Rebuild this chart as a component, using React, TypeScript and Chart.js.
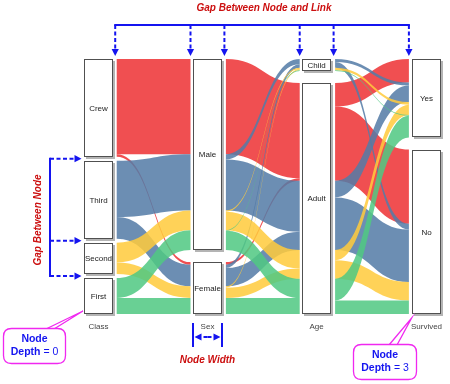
import React, { useEffect, useRef } from 'react';
import { Chart, registerables } from 'chart.js';

Chart.register(...registerables);

// ---------- data ----------
const classes = ['Crew', 'Third', 'Second', 'First'];
const sexes = ['Male', 'Female'];
const ages = ['Child', 'Adult'];
const outcomes = ['Yes', 'No'];
const columnTitles = ['Class', 'Sex', 'Age', 'Survived'];
// counts per class, order: Male(Child Yes, Child No, Adult Yes, Adult No), Female(Child Yes, Child No, Adult Yes, Adult No)
const crewCounts = [0, 0, 192, 670, 0, 0, 20, 3];
const thirdCounts = [13, 35, 75, 387, 14, 17, 76, 89];
const secondCounts = [11, 0, 14, 154, 13, 0, 80, 13];
const firstCounts = [5, 0, 57, 118, 1, 0, 140, 4];
const classColors = [
  'rgba(238,50,52,0.86)',
  'rgba(84,124,166,0.86)',
  'rgba(255,203,60,0.86)',
  'rgba(80,200,130,0.86)',
];

// ---------- layout constants ----------
const SPAN = 2310; // vertical extent in people units
const NODE_W = 0.2656; // node width in column units
const LINK_GAP = 3.2; // px gap between node and link

type PathT = { idx: number[]; n: number };
type LinkT = { c: number; src: number; dst: number; n: number; y0: number; y1: number };

function buildModel() {
  const columns = [classes, sexes, ages, outcomes];
  const countsByClass = [crewCounts, thirdCounts, secondCounts, firstCounts];
  const paths: PathT[] = [];
  countsByClass.forEach((arr, c) =>
    arr.forEach((n, j) => {
      const s = Math.floor(j / 4);
      const a = Math.floor(j / 2) % 2;
      const v = j % 2;
      if (n > 0) paths.push({ idx: [c, s, a, v], n });
    })
  );
  const nodes = columns.map((names, k) => {
    const totals = names.map((_, i) =>
      paths.filter((p) => p.idx[k] === i).reduce((s, p) => s + p.n, 0)
    );
    const sum = totals.reduce((s, t) => s + t, 0);
    const gap = names.length > 1 ? (SPAN - sum) / (names.length - 1) : 0;
    let y = 0;
    return totals.map((t, i) => {
      const r = { name: names[i], y0: y, y1: y + t };
      y += t + gap;
      return r;
    });
  });
  const linkCols: LinkT[][] = [];
  for (let k = 0; k < 3; k++) {
    const map = new Map<string, LinkT>();
    paths.forEach((p) => {
      const key = p.idx[0] + '-' + p.idx[k] + '-' + p.idx[k + 1];
      const l = map.get(key);
      if (l) l.n += p.n;
      else map.set(key, { c: p.idx[0], src: p.idx[k], dst: p.idx[k + 1], n: p.n, y0: 0, y1: 0 });
    });
    const links = [...map.values()];
    nodes[k].forEach((nd, i) => {
      let off = nd.y0;
      links
        .filter((l) => l.src === i)
        .sort((a, b) => a.c - b.c || a.dst - b.dst)
        .forEach((l) => {
          l.y0 = off;
          off += l.n;
        });
    });
    nodes[k + 1].forEach((nd, j) => {
      let off = nd.y0;
      links
        .filter((l) => l.dst === j)
        .sort((a, b) => a.c - b.c || a.src - b.src)
        .forEach((l) => {
          l.y1 = off;
          off += l.n;
        });
    });
    linkCols.push(links);
  }
  return { nodes, linkCols };
}

const FONT = '"Liberation Sans", Arial, sans-serif';
const BLUE = '#1414f0';
const RED = '#cc1010';
const MAGENTA = '#f028f0';

function arrow(ctx: CanvasRenderingContext2D, x1: number, y1: number, x2: number, y2: number, dashed = true) {
  const ang = Math.atan2(y2 - y1, x2 - x1);
  const hl = 7;
  const hw = 3.6;
  const bx = x2 - hl * Math.cos(ang);
  const by = y2 - hl * Math.sin(ang);
  ctx.save();
  ctx.strokeStyle = BLUE;
  ctx.fillStyle = BLUE;
  ctx.lineWidth = 2;
  ctx.setLineDash(dashed ? [4, 2.5] : []);
  ctx.beginPath();
  ctx.moveTo(x1, y1);
  ctx.lineTo(bx, by);
  ctx.stroke();
  ctx.setLineDash([]);
  ctx.beginPath();
  ctx.moveTo(x2, y2);
  ctx.lineTo(bx - hw * Math.sin(ang), by + hw * Math.cos(ang));
  ctx.lineTo(bx + hw * Math.sin(ang), by - hw * Math.cos(ang));
  ctx.closePath();
  ctx.fill();
  ctx.restore();
}

function roundRect(ctx: CanvasRenderingContext2D, x: number, y: number, w: number, h: number, r: number) {
  ctx.beginPath();
  ctx.moveTo(x + r, y);
  ctx.lineTo(x + w - r, y);
  ctx.quadraticCurveTo(x + w, y, x + w, y + r);
  ctx.lineTo(x + w, y + h - r);
  ctx.quadraticCurveTo(x + w, y + h, x + w - r, y + h);
  ctx.lineTo(x + r, y + h);
  ctx.quadraticCurveTo(x, y + h, x, y + h - r);
  ctx.lineTo(x, y + r);
  ctx.quadraticCurveTo(x, y, x + r, y);
  ctx.closePath();
}

function callout(ctx: CanvasRenderingContext2D, bx: number, by: number, w: number, h: number, tx1: number, tx2: number, px: number, py: number, depth: string) {
  ctx.save();
  ctx.strokeStyle = MAGENTA;
  ctx.lineWidth = 1.3;
  ctx.beginPath();
  ctx.moveTo(tx1, by + 0.5);
  ctx.lineTo(px, py);
  ctx.lineTo(tx2, by + 0.5);
  ctx.stroke();
  roundRect(ctx, bx, by, w, h, 8);
  ctx.fillStyle = '#fff';
  ctx.fill();
  ctx.stroke();
  ctx.fillStyle = BLUE;
  ctx.textAlign = 'center';
  ctx.textBaseline = 'middle';
  const cx = bx + w / 2;
  ctx.font = 'bold 10.5px ' + FONT;
  ctx.fillText('Node', cx, by + 11);
  const t1 = 'Depth';
  const t2 = ' = ' + depth;
  ctx.font = 'bold 10.5px ' + FONT;
  const w1 = ctx.measureText(t1).width;
  ctx.font = '10.5px ' + FONT;
  const w2 = ctx.measureText(t2).width;
  const sx = cx - (w1 + w2) / 2;
  ctx.textAlign = 'left';
  ctx.font = 'bold 10.5px ' + FONT;
  ctx.fillText(t1, sx, by + 24);
  ctx.font = '10.5px ' + FONT;
  ctx.fillText(t2, sx + w1, by + 24);
  ctx.restore();
}

const sankeyPlugin = {
  id: 'sankeyDraw',
  afterDraw(chart: any) {
    const ctx: CanvasRenderingContext2D = chart.ctx;
    const xs = chart.scales.x;
    const ys = chart.scales.y;
    const { nodes, linkCols } = buildModel();
    const nodeL = (k: number) => xs.getPixelForValue(k);
    const nodeR = (k: number) => xs.getPixelForValue(k + NODE_W);
    const py = (v: number) => ys.getPixelForValue(v);

    // links
    linkCols.forEach((links, k) => {
      const x0 = nodeR(k) + LINK_GAP + 0.5;
      const x1 = nodeL(k + 1) - LINK_GAP + 0.5;
      const xm = (x0 + x1) / 2;
      links.forEach((l) => {
        const a0 = py(l.y0);
        const a1 = py(l.y0 + l.n);
        const b0 = py(l.y1);
        const b1 = py(l.y1 + l.n);
        ctx.beginPath();
        ctx.moveTo(x0, a0);
        ctx.bezierCurveTo(xm, a0, xm, b0, x1, b0);
        ctx.lineTo(x1, b1);
        ctx.bezierCurveTo(xm, b1, xm, a1, x0, a1);
        ctx.closePath();
        ctx.fillStyle = classColors[l.c];
        ctx.fill();
      });
    });

    // nodes
    nodes.forEach((col, k) => {
      const l = Math.round(nodeL(k));
      const r = Math.round(nodeR(k));
      col.forEach((nd) => {
        const t = Math.round(py(nd.y0));
        const b = Math.round(py(nd.y1));
        ctx.fillStyle = '#b4b4b4';
        ctx.fillRect(l + 2, t + 2, r - l, b - t);
        ctx.fillStyle = '#fff';
        ctx.fillRect(l, t, r - l, b - t);
        ctx.strokeStyle = '#505050';
        ctx.lineWidth = 1;
        ctx.strokeRect(l + 0.5, t + 0.5, r - l - 1, b - t - 1);
        ctx.fillStyle = '#222';
        ctx.font = '8px ' + FONT;
        ctx.textAlign = 'center';
        ctx.textBaseline = 'middle';
        ctx.fillText(nd.name, (l + r) / 2, (t + b) / 2 + 0.5);
      });
      ctx.fillStyle = '#444';
      ctx.font = '8px ' + FONT;
      ctx.textAlign = 'center';
      ctx.textBaseline = 'middle';
      ctx.fillText(columnTitles[k], (l + r) / 2, chart.chartArea.bottom + 13);
    });

    // annotation: gap between node and link
    const top = chart.chartArea.top;
    const ax: number[] = [];
    for (let k = 0; k < 3; k++) {
      ax.push(nodeR(k) + LINK_GAP - 1);
      ax.push(nodeL(k + 1) - LINK_GAP + 0.5);
    }
    ctx.save();
    ctx.strokeStyle = BLUE;
    ctx.lineWidth = 2;
    ctx.beginPath();
    ctx.moveTo(ax[0] - 1, 25);
    ctx.lineTo(ax[ax.length - 1] + 1, 25);
    ctx.stroke();
    ctx.restore();
    ax.forEach((x) => arrow(ctx, x, 25, x, top - 3));
    ctx.save();
    ctx.fillStyle = RED;
    ctx.font = 'italic bold 10px ' + FONT;
    ctx.textAlign = 'center';
    ctx.textBaseline = 'middle';
    ctx.fillText('Gap Between Node and Link', 264, 8.5);
    ctx.restore();

    // annotation: gap between node (class column)
    const c0 = nodes[0];
    const gy = [0, 1, 2].map((i) => (py(c0[i].y1) + py(c0[i + 1].y0)) / 2);
    ctx.save();
    ctx.strokeStyle = BLUE;
    ctx.lineWidth = 2;
    ctx.beginPath();
    ctx.moveTo(50, gy[0] - 1);
    ctx.lineTo(50, gy[2] + 1);
    ctx.stroke();
    ctx.restore();
    gy.forEach((y) => arrow(ctx, 50, y, nodeL(0) - 2.5, y));
    ctx.save();
    ctx.translate(38, 220);
    ctx.rotate(-Math.PI / 2);
    ctx.fillStyle = RED;
    ctx.font = 'italic bold 10px ' + FONT;
    ctx.textAlign = 'center';
    ctx.textBaseline = 'middle';
    ctx.fillText('Gap Between Node', 0, 0);
    ctx.restore();

    // annotation: node width
    const sl = Math.round(nodeL(1));
    const sr = Math.round(nodeR(1));
    ctx.save();
    ctx.strokeStyle = BLUE;
    ctx.lineWidth = 2;
    ctx.beginPath();
    ctx.moveTo(sl, 323);
    ctx.lineTo(sl, 347);
    ctx.moveTo(sr, 323);
    ctx.lineTo(sr, 347);
    ctx.stroke();
    ctx.restore();
    const midx = (sl + sr) / 2;
    arrow(ctx, midx, 337, sl + 1.5, 337);
    arrow(ctx, midx, 337, sr - 1.5, 337);
    ctx.save();
    ctx.fillStyle = RED;
    ctx.font = 'italic bold 10px ' + FONT;
    ctx.textAlign = 'center';
    ctx.textBaseline = 'middle';
    ctx.fillText('Node Width', midx, 360);
    ctx.restore();

    // callouts
    const bottom = chart.chartArea.bottom;
    callout(ctx, 3.5, 328.5, 62, 35, 46, 54, nodeL(0) - 1, bottom - 3, '0');
    callout(ctx, 353.5, 344.5, 63, 35, 389, 397, nodeL(3), bottom + 4, '3');
  },
};

export default function App() {
  const ref = useRef<HTMLCanvasElement | null>(null);
  useEffect(() => {
    if (!ref.current) return;
    const chart = new Chart(ref.current, {
      type: 'scatter',
      data: { datasets: [{ data: [], pointRadius: 0 }] },
      options: {
        animation: false,
        responsive: false,
        maintainAspectRatio: false,
        devicePixelRatio: 1,
        layout: { padding: { left: 84, top: 59, right: 450 - 440.6, bottom: 70 } },
        scales: {
          x: { type: 'linear', min: 0, max: 3 + NODE_W, display: false },
          y: { type: 'linear', min: 0, max: SPAN, reverse: true, display: false },
        },
        plugins: { legend: { display: false }, tooltip: { enabled: false }, title: { display: false } },
      },
      plugins: [sankeyPlugin],
    });
    return () => chart.destroy();
  }, []);
  return (
    <div style={{ position: 'absolute', left: 0, top: 0, width: 450, height: 384, background: '#fff' }}>
      <canvas ref={ref} width={450} height={384} style={{ display: 'block', width: 450, height: 384 }} />
    </div>
  );
}
